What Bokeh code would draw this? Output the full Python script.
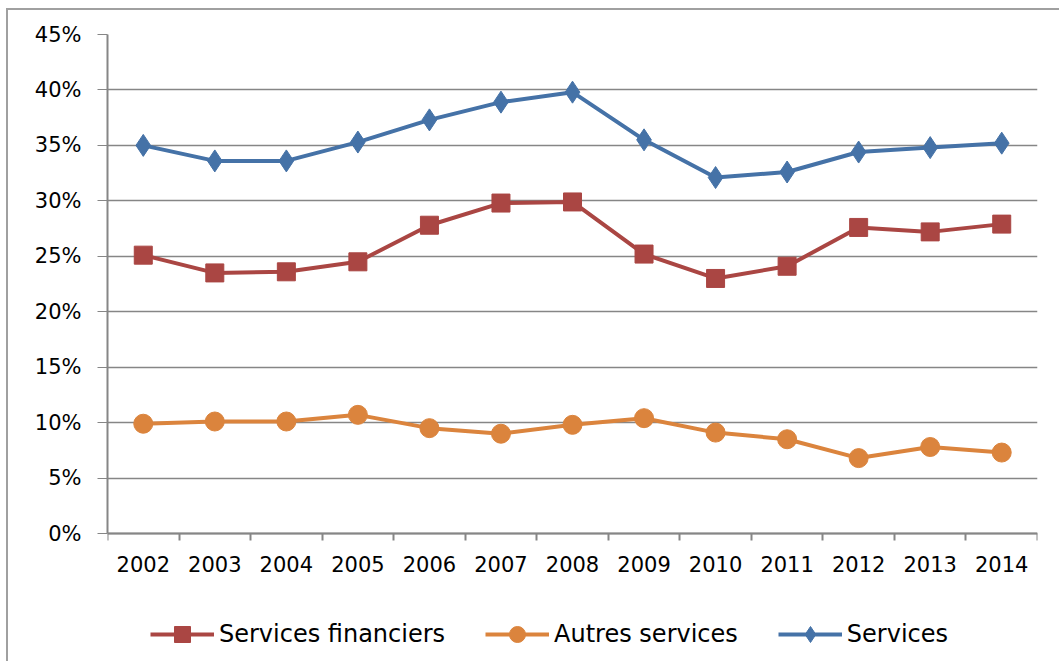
from bokeh.plotting import figure
from bokeh.models import Range1d, FixedTicker, NumeralTickFormatter, Legend, LegendItem
from bokeh.embed import file_html
from bokeh.resources import INLINE

years = ["2002", "2003", "2004", "2005", "2006", "2007", "2008", "2009", "2010", "2011", "2012", "2013", "2014"]
services_financiers = [25.1, 23.5, 23.6, 24.5, 27.8, 29.8, 29.9, 25.2, 23.0, 24.1, 27.6, 27.2, 27.9]
autres_services = [9.9, 10.1, 10.1, 10.7, 9.5, 9.0, 9.8, 10.4, 9.1, 8.5, 6.8, 7.8, 7.3]
services = [35.0, 33.6, 33.6, 35.3, 37.3, 38.9, 39.8, 35.5, 32.1, 32.6, 34.4, 34.8, 35.2]
y_ticks = [0.0, 0.05, 0.10, 0.15, 0.20, 0.25, 0.30, 0.35, 0.40, 0.45]

xs = [i + 0.5 for i in range(len(years))]

# frame: top at 45%, 499px down to 0%, then 130px of room for the year labels and legend
y_top = 0.45
y_bottom = -y_top * 130 / 499

p = figure(width=1053, height=653, output_backend="svg", toolbar_location=None,
           x_range=Range1d(0, len(years)), y_range=Range1d(y_bottom, y_top),
           min_border_left=99, min_border_right=24, min_border_top=24, min_border_bottom=0)
p.margin = (10, 0, 0, 8)
p.styles = {"box-shadow": "-2px -2px 0 0 #a0a0a0"}
p.outline_line_color = None
p.background_fill_color = "white"
p.border_fill_color = "white"

grid_col = "#868686"
# x axis
p.xaxis.fixed_location = 0
p.xaxis.ticker = FixedTicker(ticks=xs, minor_ticks=list(range(len(years) + 1)))
p.xaxis.major_label_overrides = {x: y for x, y in zip(xs, years)}
p.xaxis.major_tick_line_color = None
p.xaxis.major_tick_out = 0
p.xaxis.major_tick_in = 0
p.xaxis.minor_tick_line_color = grid_col
p.xaxis.minor_tick_line_width = 2
p.xaxis.minor_tick_out = 7
p.xaxis.minor_tick_in = 0
p.xaxis.axis_line_color = grid_col
p.xaxis.axis_line_width = 2
p.xaxis.major_label_standoff = 15
p.xaxis.major_label_text_font = "DejaVu Sans"
p.xaxis.major_label_text_font_size = "21px"
p.xaxis.major_label_text_color = "black"
p.xgrid.grid_line_color = None

# y axis
p.yaxis.ticker = FixedTicker(ticks=y_ticks)
p.yaxis.bounds = (0, y_top)
p.yaxis.formatter = NumeralTickFormatter(format="0%")
p.yaxis.major_tick_line_color = grid_col
p.yaxis.major_tick_out = 10
p.yaxis.major_tick_in = 0
p.yaxis.minor_tick_line_color = None
p.yaxis.axis_line_color = grid_col
p.yaxis.axis_line_width = 2
p.yaxis.major_label_standoff = 16
p.yaxis.major_label_text_font = "DejaVu Sans"
p.yaxis.major_label_text_font_size = "21px"
p.yaxis.major_label_text_color = "black"
p.ygrid.grid_line_color = grid_col
p.ygrid.grid_line_width = 1.5

red = "#AA4643"
orange = "#DB843D"
blue = "#4572A7"

sf = [v / 100 for v in services_financiers]
au = [v / 100 for v in autres_services]
se = [v / 100 for v in services]

l1 = p.line(xs, sf, line_color=red, line_width=4)
m1 = p.scatter(xs, sf, marker="square", size=18, fill_color=red, line_color=red)
l2 = p.line(xs, au, line_color=orange, line_width=4)
m2 = p.scatter(xs, au, marker="circle", size=19, fill_color=orange, line_color=orange)
l3 = p.line(xs, se, line_color=blue, line_width=4)
m3 = p.scatter(xs, se, marker="diamond", size=22, fill_color=blue, line_color=blue)

legend = Legend(items=[
    LegendItem(label="Services financiers", renderers=[l1, m1]),
    LegendItem(label="Autres services", renderers=[l2, m2]),
    LegendItem(label="Services", renderers=[l3, m3]),
], orientation="horizontal", location=(43, 9))
legend.border_line_color = None
legend.background_fill_alpha = 0
legend.padding = 0
legend.margin = 0
legend.spacing = 40
legend.glyph_width = 64
legend.glyph_height = 40
legend.label_standoff = 5
legend.label_text_font = "DejaVu Sans"
legend.label_text_font_size = "24px"
legend.label_text_color = "black"
p.add_layout(legend, "center")

open("out.html", "w").write(file_html(p, INLINE))
